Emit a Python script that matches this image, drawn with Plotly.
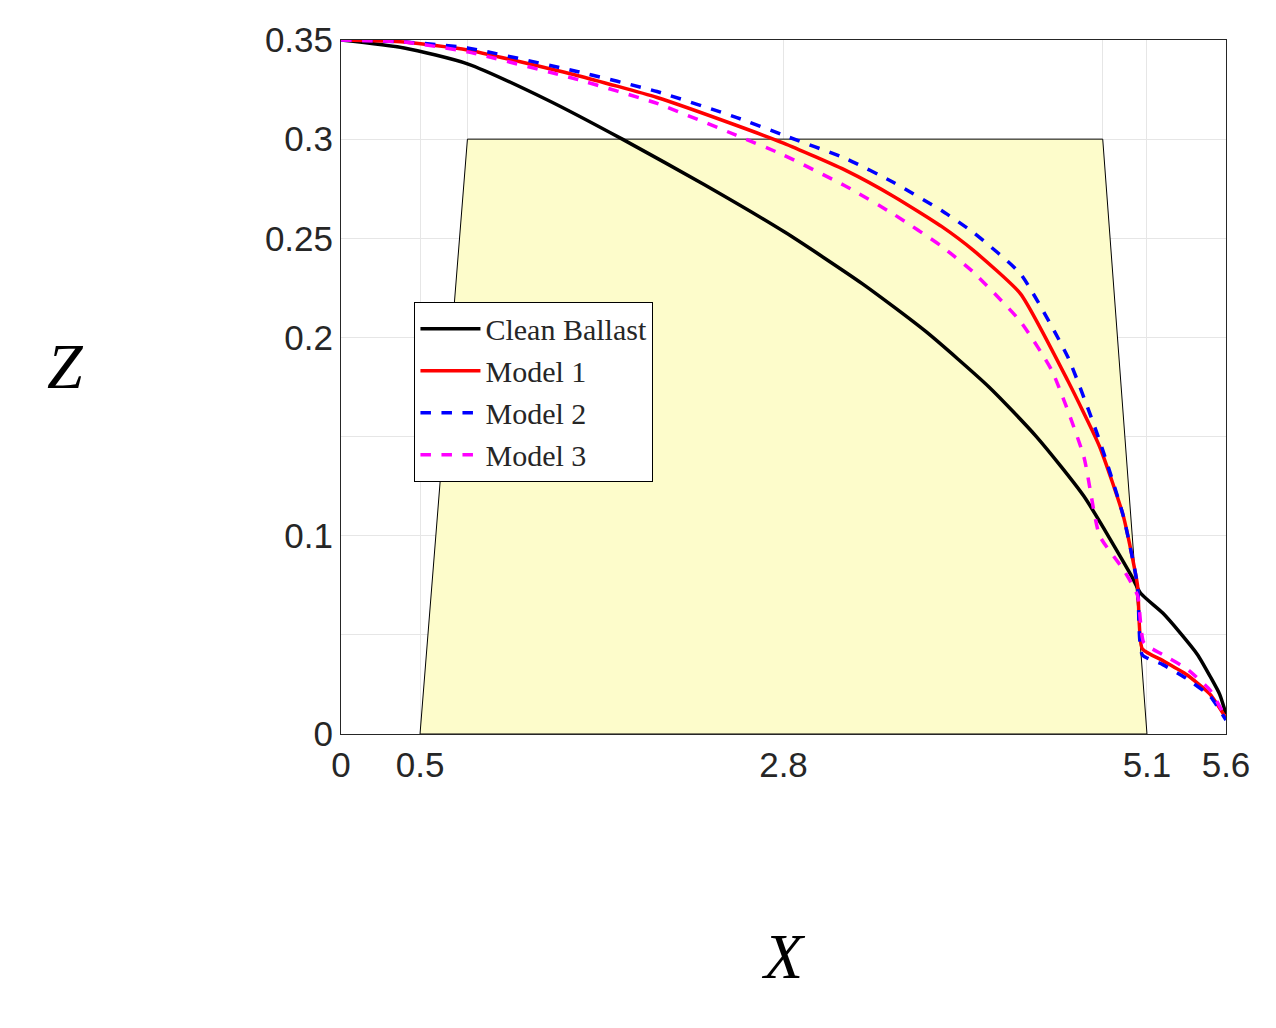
import plotly.graph_objects as go

trap_x = [0.5, 0.8, 4.82, 5.1, 0.5]
trap_y = [0, 0.3, 0.3, 0, 0]

clean_x = [0, 0.4, 0.8, 1.3, 1.78, 2.3, 2.81, 3.3, 3.7, 4.1, 4.4, 4.7, 5.0, 5.06, 5.2, 5.31, 5.42, 5.5, 5.56, 5.6]
clean_y = [0.35, 0.346, 0.338, 0.32, 0.3, 0.277, 0.253, 0.227, 0.203, 0.175, 0.15, 0.12, 0.08, 0.071, 0.061, 0.051, 0.04, 0.029, 0.02, 0.01]

m1_x = [0, 0.4, 0.8, 1.5, 2.0, 2.5, 2.8, 3.2, 3.5, 3.8, 4.0, 4.3, 4.6, 4.8, 4.95, 5.04, 5.07, 5.2, 5.35, 5.5, 5.6]
m1_y = [0.35, 0.349, 0.345, 0.332, 0.321, 0.307, 0.298, 0.284, 0.271, 0.256, 0.244, 0.222, 0.178, 0.145, 0.11, 0.075, 0.043, 0.037, 0.03, 0.02, 0.008]

m2_x = [0, 0.4, 0.8, 1.5, 2.0, 2.5, 2.8, 3.2, 3.5, 3.8, 4.0, 4.3, 4.6, 4.8, 4.95, 5.04, 5.07, 5.2, 5.35, 5.5, 5.6]
m2_y = [0.35, 0.349, 0.346, 0.334, 0.324, 0.311, 0.302, 0.29, 0.278, 0.264, 0.253, 0.232, 0.19, 0.148, 0.11, 0.075, 0.04, 0.035, 0.028, 0.019, 0.007]

m3_x = [0, 0.4, 0.8, 1.5, 2.0, 2.5, 2.8, 3.2, 3.5, 3.8, 4.0, 4.3, 4.5, 4.7, 4.8, 4.95, 5.04, 5.08, 5.2, 5.35, 5.5, 5.6]
m3_y = [0.35, 0.349, 0.344, 0.33, 0.318, 0.302, 0.292, 0.276, 0.262, 0.246, 0.233, 0.208, 0.183, 0.14, 0.1, 0.083, 0.07, 0.046, 0.04, 0.033, 0.022, 0.008]

fig = go.Figure()
fig.add_trace(go.Scatter(x=trap_x, y=trap_y, mode="lines", fill="toself", fillcolor="#fdfccb",
                         line=dict(color="black", width=1), showlegend=False, hoverinfo="skip"))
fig.add_trace(go.Scatter(x=clean_x, y=clean_y, mode="lines", name="Clean Ballast",
                         line=dict(color="black", width=3.5, shape="spline", smoothing=0.6)))
fig.add_trace(go.Scatter(x=m1_x, y=m1_y, mode="lines", name="Model 1",
                         line=dict(color="red", width=3.5, shape="spline", smoothing=0.5)))
fig.add_trace(go.Scatter(x=m2_x, y=m2_y, mode="lines", name="Model 2",
                         line=dict(color="blue", width=3.5, dash="dash", shape="spline", smoothing=0.5)))
fig.add_trace(go.Scatter(x=m3_x, y=m3_y, mode="lines", name="Model 3",
                         line=dict(color="magenta", width=3.5, dash="dash", shape="spline", smoothing=0.5)))

fig.add_annotation(text="<i>Z</i>", xref="paper", yref="paper", x=-0.335, y=0.53,
                   showarrow=False, textangle=0,
                   font=dict(family="Liberation Serif, Times New Roman", size=64, color="black"))

fig.update_layout(
    width=1276, height=1028, plot_bgcolor="white", paper_bgcolor="white",
    margin=dict(l=333, r=58, t=27, b=302),
    font=dict(family="Liberation Sans, Arial", size=35, color="#262626"),
    xaxis=dict(range=[0, 5.6], tickvals=[0, 0.5, 0.8, 2.8, 4.82, 5.1, 5.6],
               ticktext=["0", "0.5", "", "2.8", "", "5.1", "5.6"],
               showgrid=True, gridcolor="#e6e6e6", zeroline=False, showline=True,
               linecolor="#262626", mirror=True, ticks="", title=dict(text="<i>X</i>",
               font=dict(family="Liberation Serif, Times New Roman", size=64, color="black"), standoff=150)),
    yaxis=dict(range=[0, 0.35], tickvals=[0, 0.05, 0.1, 0.15, 0.2, 0.25, 0.3, 0.35],
               ticktext=["0", "", "0.1", "", "0.2", "0.25", "0.3", "0.35"],
               showgrid=True, gridcolor="#e6e6e6", zeroline=False, showline=True,
               linecolor="#262626", mirror=True, ticks=""),
    legend=dict(x=0.083, y=0.623, xanchor="left", yanchor="top", bgcolor="white",
                bordercolor="black", borderwidth=1, itemwidth=60,
                font=dict(family="Liberation Serif, Times New Roman", size=30, color="#262626")),
)
fig.write_html("out.html")
